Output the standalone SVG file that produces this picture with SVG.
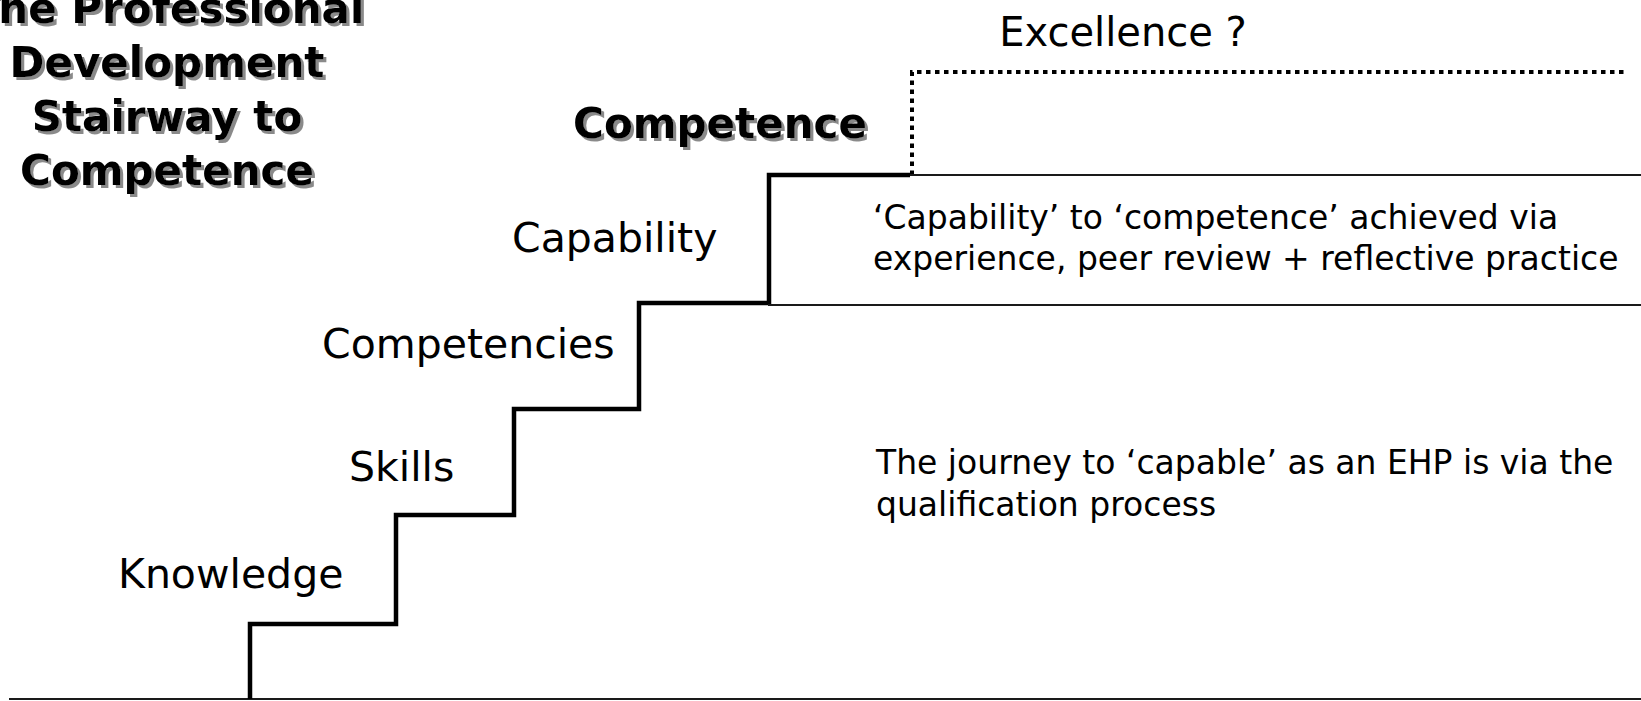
<svg xmlns="http://www.w3.org/2000/svg" width="1641" height="701" viewBox="0 0 1641 701">
  <defs>
    <filter id="shadow" x="-10%" y="-10%" width="120%" height="130%">
      <feDropShadow dx="3" dy="3" stdDeviation="0.6" flood-color="#8a8a8a" flood-opacity="1"/>
    </filter>
  </defs>
  <style>
    .title { font-family: "DejaVu Sans", "Liberation Sans", sans-serif; font-weight: bold; font-size: 42px; fill: #000; text-anchor: middle; }
    .label { font-family: "DejaVu Sans", "Liberation Sans", sans-serif; font-size: 41px; fill: #000; }
    .body { font-family: "DejaVu Sans", "Liberation Sans", sans-serif; font-size: 33px; fill: #000; }
    .stair { fill: none; stroke: #000; stroke-width: 4.5; stroke-linejoin: miter; stroke-linecap: butt; }
    .thin { fill: none; stroke: #1a1a1a; stroke-width: 2; }
    .dotted { fill: none; stroke: #000; stroke-width: 4; stroke-dasharray: 4.5 4.5; }
  </style>
  <rect width="1641" height="701" fill="#ffffff"/>

  <g id="connectors">
    <line class="thin" x1="9" y1="699" x2="1641" y2="699"/>
    <polyline class="stair" points="250,699 250,624 396,624 396,515 514,515 514,409 639,409 639,303 769,303 769,175 910,175"/>
    <polyline class="dotted" points="912,175 912,72 1625,72"/>
    <line class="thin" x1="910" y1="175" x2="1641" y2="175"/>
    <line class="thin" x1="768" y1="305" x2="1641" y2="305"/>
  </g>

  <g id="title" filter="url(#shadow)">
    <text class="title" x="167" y="23">The Professional</text>
    <text class="title" x="167" y="77">Development</text>
    <text class="title" x="167" y="131">Stairway to</text>
    <text class="title" x="167" y="185">Competence</text>
  </g>

  <g id="competence" filter="url(#shadow)">
    <text class="title" x="720" y="138">Competence</text>
  </g>

  <g id="excellence">
    <text class="label" x="1123" y="46" text-anchor="middle" style="font-size:40px">Excellence ?</text>
  </g>

  <g id="capability">
    <text class="label" x="512" y="252">Capability</text>
  </g>

  <g id="competencies">
    <text class="label" x="322" y="358">Competencies</text>
  </g>

  <g id="skills">
    <text class="label" x="349" y="481">Skills</text>
  </g>

  <g id="knowledge">
    <text class="label" x="118" y="588">Knowledge</text>
  </g>

  <g id="capability-note">
    <text class="body" x="873" y="229">‘Capability’ to ‘competence’ achieved via</text>
    <text class="body" x="873" y="270">experience, peer review + reflective practice</text>
  </g>

  <g id="journey-note">
    <text class="body" x="876" y="474">The journey to ‘capable’ as an EHP is via the</text>
    <text class="body" x="876" y="516">qualification process</text>
  </g>
</svg>
